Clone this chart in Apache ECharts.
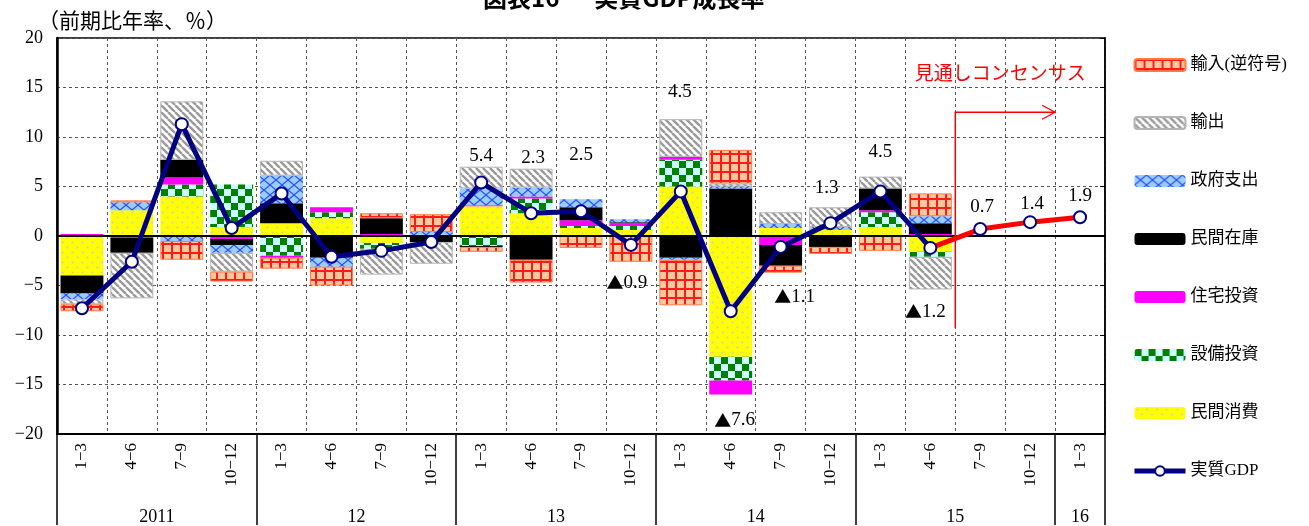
<!DOCTYPE html>
<html>
<head>
<meta charset="utf-8">
<script src="https://cdn.jsdelivr.net/npm/echarts@6/dist/echarts.min.js"></script>
<style>
  html, body { margin: 0; padding: 0; background: #fff; }
  #chart { width: 1309px; height: 526px; }
</style>
</head>
<body>
<div id="chart"></div>
<script>
// ---- data (前期比年率寄与度, %) ----
const years = ['2011', '12', '13', '14', '15', '16'];
const quarterNames = ['1−3', '4−6', '7−9', '10−12'];
const quarterCount = 21; // 2011 1-3 … 2016 1-3

const consumption = [-4.0, 2.6, 4.0, 0.9, 1.3, 1.8, -0.7, null, 3.0, 2.3, 0.8, 0.6, 5.0, -12.2, 0.8, 0.6, 0.9, -1.6];
const capex       = [null, null, 1.2, 4.3, -2.0, 0.6, -0.6, null, -1.0, 1.5, 0.2, 0.4, 2.7, -2.4, null, null, 1.5, -0.5];
const housing     = [0.2, -0.2, 0.7, -0.3, -0.2, 0.5, 0.2, null, 0.1, 0.2, 0.6, 0.3, 0.3, -1.4, -0.9, null, 0.2, 0.2];
const inventory   = [-1.8, -1.5, 1.8, -0.6, 2.0, -2.2, 1.6, -0.6, -0.1, -2.4, 1.3, 0.1, -2.2, 4.8, -2.1, -1.1, 2.2, 1.1];
const government  = [-0.6, 0.8, -0.5, -0.8, 2.8, -0.9, null, 0.4, 1.7, 0.9, 0.8, 0.3, -0.2, 0.2, 0.4, 0.3, null, 0.7];
const exportsC    = [-0.5, -4.6, 5.9, -1.9, 1.5, null, -2.6, -2.2, 2.2, 1.9, null, null, 3.8, 0.3, 1.2, 2.0, 1.2, -3.3];
const importsC    = [-0.7, 0.2, -1.9, -1.0, -1.1, -1.9, 0.5, 1.8, -0.5, -2.3, -1.2, -2.6, -4.6, 3.4, -0.7, -0.7, -1.5, 2.3];
const realGdp     = [-7.3, -2.6, 11.3, 0.8, 4.3, -2.1, -1.5, -0.6, 5.4, 2.3, 2.5, -0.9, 4.5, -7.6, -1.1, 1.3, 4.5, -1.2];
const consensus   = [0.7, 1.4, 1.9]; // 2015 7-9, 10-12, 2016 1-3

// ---- layout of the value labels (pixel offsets from each point) ----
const gdpLabelOffsets = {
  8: [0, -27], 9: [2, -55], 10: [0, -56], 11: [-4, 38], 12: [-1, -99],
  13: [4, 109], 14: [14, 50], 15: [-4, -35], 16: [0, -39], 17: [-5, 64]
};
const consensusLabelOffsets = [[2, -22], [2, -18], [0, -21]];

const SERIF = "'Liberation Serif', 'Noto Sans CJK JP', serif";
const CJK = "'Noto Sans CJK JP', sans-serif";
const NAVY = '#000080';

// category keys: "year|quarter"
const catKeys = [];
for (let i = 0; i < quarterCount; i++) {
  catKeys.push(years[Math.floor(i / 4)] + '|' + quarterNames[i % 4]);
}
// year labels sit on a half-step grid (2 slots per quarter)
const yearSlots = new Array(quarterCount * 2 + 1).fill('');
years.forEach((y, k) => {
  const first = k * 4;
  const last = Math.min(first + 4, quarterCount);
  yearSlots[first + last] = y;
});

// ---- fill patterns ----
function tile(w, h, draw) {
  const c = document.createElement('canvas');
  c.width = w; c.height = h;
  const g = c.getContext('2d');
  draw(g, w, h);
  return { image: c, repeat: 'repeat' };
}
const patYellow = tile(10, 10, (g, w, h) => {
  g.fillStyle = '#ffff00'; g.fillRect(0, 0, w, h);
  g.fillStyle = '#cfcfb8';
  [[2.5, 2.5], [7.5, 7.5]].forEach(([x, y]) => { g.beginPath(); g.arc(x, y, 1.1, 0, Math.PI * 2); g.fill(); });
});
const patGreen = tile(14, 14, (g, w, h) => {
  g.fillStyle = '#ccffff'; g.fillRect(0, 0, w, h);
  g.fillStyle = '#008000'; g.fillRect(0, 0, 7, 7); g.fillRect(7, 7, 7, 7);
});
const patBlue = tile(12, 10, (g, w, h) => {
  g.fillStyle = '#99ccff'; g.fillRect(0, 0, w, h);
  g.strokeStyle = '#2a4dff'; g.lineWidth = 1.2;
  g.beginPath(); g.moveTo(0, 0); g.lineTo(w, h); g.moveTo(w, 0); g.lineTo(0, h); g.stroke();
});
const patGray = tile(7, 7, (g, w, h) => {
  g.fillStyle = '#ffffff'; g.fillRect(0, 0, w, h);
  g.strokeStyle = '#9a9a9a'; g.lineWidth = 2.4;
  g.beginPath();
  for (let k = -1; k <= 1; k++) { g.moveTo(k * w, 0); g.lineTo(k * w + w, h); }
  g.stroke();
});
const patRed = tile(9, 9, (g, w, h) => {
  g.fillStyle = '#ffc89c'; g.fillRect(0, 0, w, h);
  g.fillStyle = '#ff1a1a'; g.fillRect(0, 0, w, 2); g.fillRect(0, 0, 2, h);
});

function barSeries(name, data, color, borderColor) {
  return {
    name, type: 'bar', stack: 'contrib', data,
    barWidth: '86%', z: 2,
    itemStyle: { color, borderColor: borderColor || 'transparent', borderWidth: borderColor ? 1 : 0 },
    emphasis: { disabled: true }
  };
}

// negative values are written with a filled triangle
const fmtValue = v => (v < 0 ? '{tri|▲}' + Math.abs(v).toFixed(1) : v.toFixed(1));
const labelStyle = {
  position: 'inside', fontSize: 19, fontFamily: SERIF, color: '#000',
  formatter: p => fmtValue(p.value),
  rich: { tri: { fontFamily: CJK, fontSize: 17, color: '#000' } }
};

const gdpData = realGdp.map((v, i) => gdpLabelOffsets[i]
  ? { value: v, label: { show: true, offset: gdpLabelOffsets[i] } } : v);

const consensusData = catKeys.map((_, i) => {
  const last = realGdp.length - 1;
  if (i < last) return null;
  if (i === last) return { value: realGdp[last], symbolSize: 0, label: { show: false } };
  const k = i - last - 1;
  return { value: consensus[k], label: { show: true, offset: consensusLabelOffsets[k] } };
});

const legendNames = ['輸入(逆符号)', '輸出', '政府支出', '民間在庫', '住宅投資', '設備投資', '民間消費', '実質GDP'];
const legendData = legendNames.map(n => n === '実質GDP'
  ? { name: n, lineStyle: { width: 5, color: NAVY } } : { name: n });

const option = {
  animation: false,
  backgroundColor: '#fff',
  title: [
    { text: '図表16　  実質GDP成長率', left: 478, top: -19,
      textStyle: { fontSize: 24, fontWeight: 'bold', fontFamily: CJK, color: '#000' } },
    { text: '（前期比年率、％）', left: 33, top: 7,
      textStyle: { fontSize: 21, fontWeight: 'normal', fontFamily: SERIF, color: '#000' } }
  ],
  grid: { left: 57, right: 204, top: 38, bottom: 91, show: true, borderColor: '#000', borderWidth: 1.5, backgroundColor: 'transparent' },
  legend: {
    data: legendData, orient: 'vertical', left: 1132, top: 55, padding: 0,
    itemWidth: 51, itemHeight: 12, itemGap: 38,
    textStyle: { fontSize: 17, lineHeight: 20, fontFamily: SERIF, color: '#000' },
    selectedMode: false
  },
  xAxis: [
    { // quarters + year separators
      type: 'category', data: catKeys, position: 'bottom', boundaryGap: true,
      axisLine: { show: true, onZero: false, lineStyle: { color: '#000', width: 2 } },
      axisTick: { show: true, length: 91, interval: i => i % 4 === 0, lineStyle: { color: '#000', width: 1.5 } },
      axisLabel: { interval: 0, rotate: 90, margin: 9, fontSize: 17, fontFamily: SERIF, color: '#000',
        formatter: v => v.split('|')[1] },
      splitLine: { show: true, interval: 0, lineStyle: { color: '#555', type: [3, 3], width: 1 } }
    },
    { // year labels
      type: 'category', data: yearSlots, position: 'bottom', boundaryGap: false,
      axisLine: { show: false, onZero: false }, axisTick: { show: false }, splitLine: { show: false },
      axisLabel: { interval: 0, margin: 74, fontSize: 18, fontFamily: SERIF, color: '#000', hideOverlap: false }
    },
    { // zero line
      type: 'category', data: catKeys, position: 'bottom', z: 4,
      axisLine: { show: true, onZero: true, lineStyle: { color: '#000', width: 2 } },
      axisTick: { show: false }, axisLabel: { show: false }, splitLine: { show: false }
    }
  ],
  yAxis: [
    { type: 'value', min: -20, max: 20, interval: 5, position: 'left',
      axisLine: { show: true, onZero: false, lineStyle: { color: '#000', width: 2.5 } },
      axisTick: { show: false },
      axisLabel: { fontSize: 18, fontFamily: SERIF, color: '#000', margin: 14,
        formatter: v => (v < 0 ? '−' + Math.abs(v) : String(v)) },
      splitLine: { show: true, lineStyle: { color: '#555', type: [3, 3], width: 1 } } },
    { type: 'value', min: -20, max: 20, interval: 5, position: 'right',
      axisLine: { show: true, onZero: false, lineStyle: { color: '#000', width: 1.5 } },
      axisTick: { show: true, inside: true, length: 5, lineStyle: { color: '#000' } },
      axisLabel: { show: false }, splitLine: { show: false } }
  ],
  series: [
    barSeries('民間消費', consumption, patYellow),
    barSeries('設備投資', capex, patGreen),
    barSeries('住宅投資', housing, '#ff00ff'),
    barSeries('民間在庫', inventory, '#000000'),
    barSeries('政府支出', government, patBlue),
    barSeries('輸出', exportsC, patGray, '#b4b4b4'),
    barSeries('輸入(逆符号)', importsC, patRed, '#ff7a45'),
    { name: '見通し', type: 'line', data: consensusData, z: 5,
      lineStyle: { color: '#ff0000', width: 5 },
      symbol: 'circle', symbolSize: 12,
      itemStyle: { color: '#fff', borderColor: NAVY, borderWidth: 2 },
      label: labelStyle, emphasis: { disabled: true } },
    { name: '実質GDP', type: 'line', data: gdpData, z: 6,
      lineStyle: { color: NAVY, width: 5 },
      symbol: 'circle', symbolSize: 12,
      itemStyle: { color: '#fff', borderColor: NAVY, borderWidth: 2 },
      label: labelStyle, emphasis: { disabled: true } }
  ]
};

const chart = echarts.init(document.getElementById('chart'));
chart.setOption(option);

// forecast marker: vertical line at the 2015 7-9 boundary, arrow and caption
(function () {
  const cx = i => chart.convertToPixel({ xAxisIndex: 0 }, i);
  const cy = v => chart.convertToPixel({ yAxisIndex: 0 }, v);
  const start = realGdp.length;               // first forecast quarter
  const step = cx(1) - cx(0);
  const xStart = cx(start) - step / 2;
  const xEnd = cx(quarterCount - 1) - step / 2;
  const yTop = cy(12.5), yBottom = cy(-9.3), yText = cy(16.5);
  const red = '#ff0000';
  chart.setOption({
    graphic: [
      { type: 'polyline', z: 10, shape: { points: [[xStart, yBottom], [xStart, yTop], [xEnd, yTop]] },
        style: { stroke: red, lineWidth: 1.5, fill: null } },
      { type: 'polyline', z: 10, shape: { points: [[xEnd - 13, yTop - 7], [xEnd, yTop], [xEnd - 13, yTop + 7]] },
        style: { stroke: red, lineWidth: 1.3, fill: null } },
      { type: 'text', z: 10, x: (xStart + xEnd) / 2 - 5, y: yText,
        style: { text: '見通しコンセンサス', fill: red, font: "19px 'Noto Sans CJK JP', sans-serif",
          align: 'center', verticalAlign: 'middle' } }
    ]
  });
})();
</script>
</body>
</html>
